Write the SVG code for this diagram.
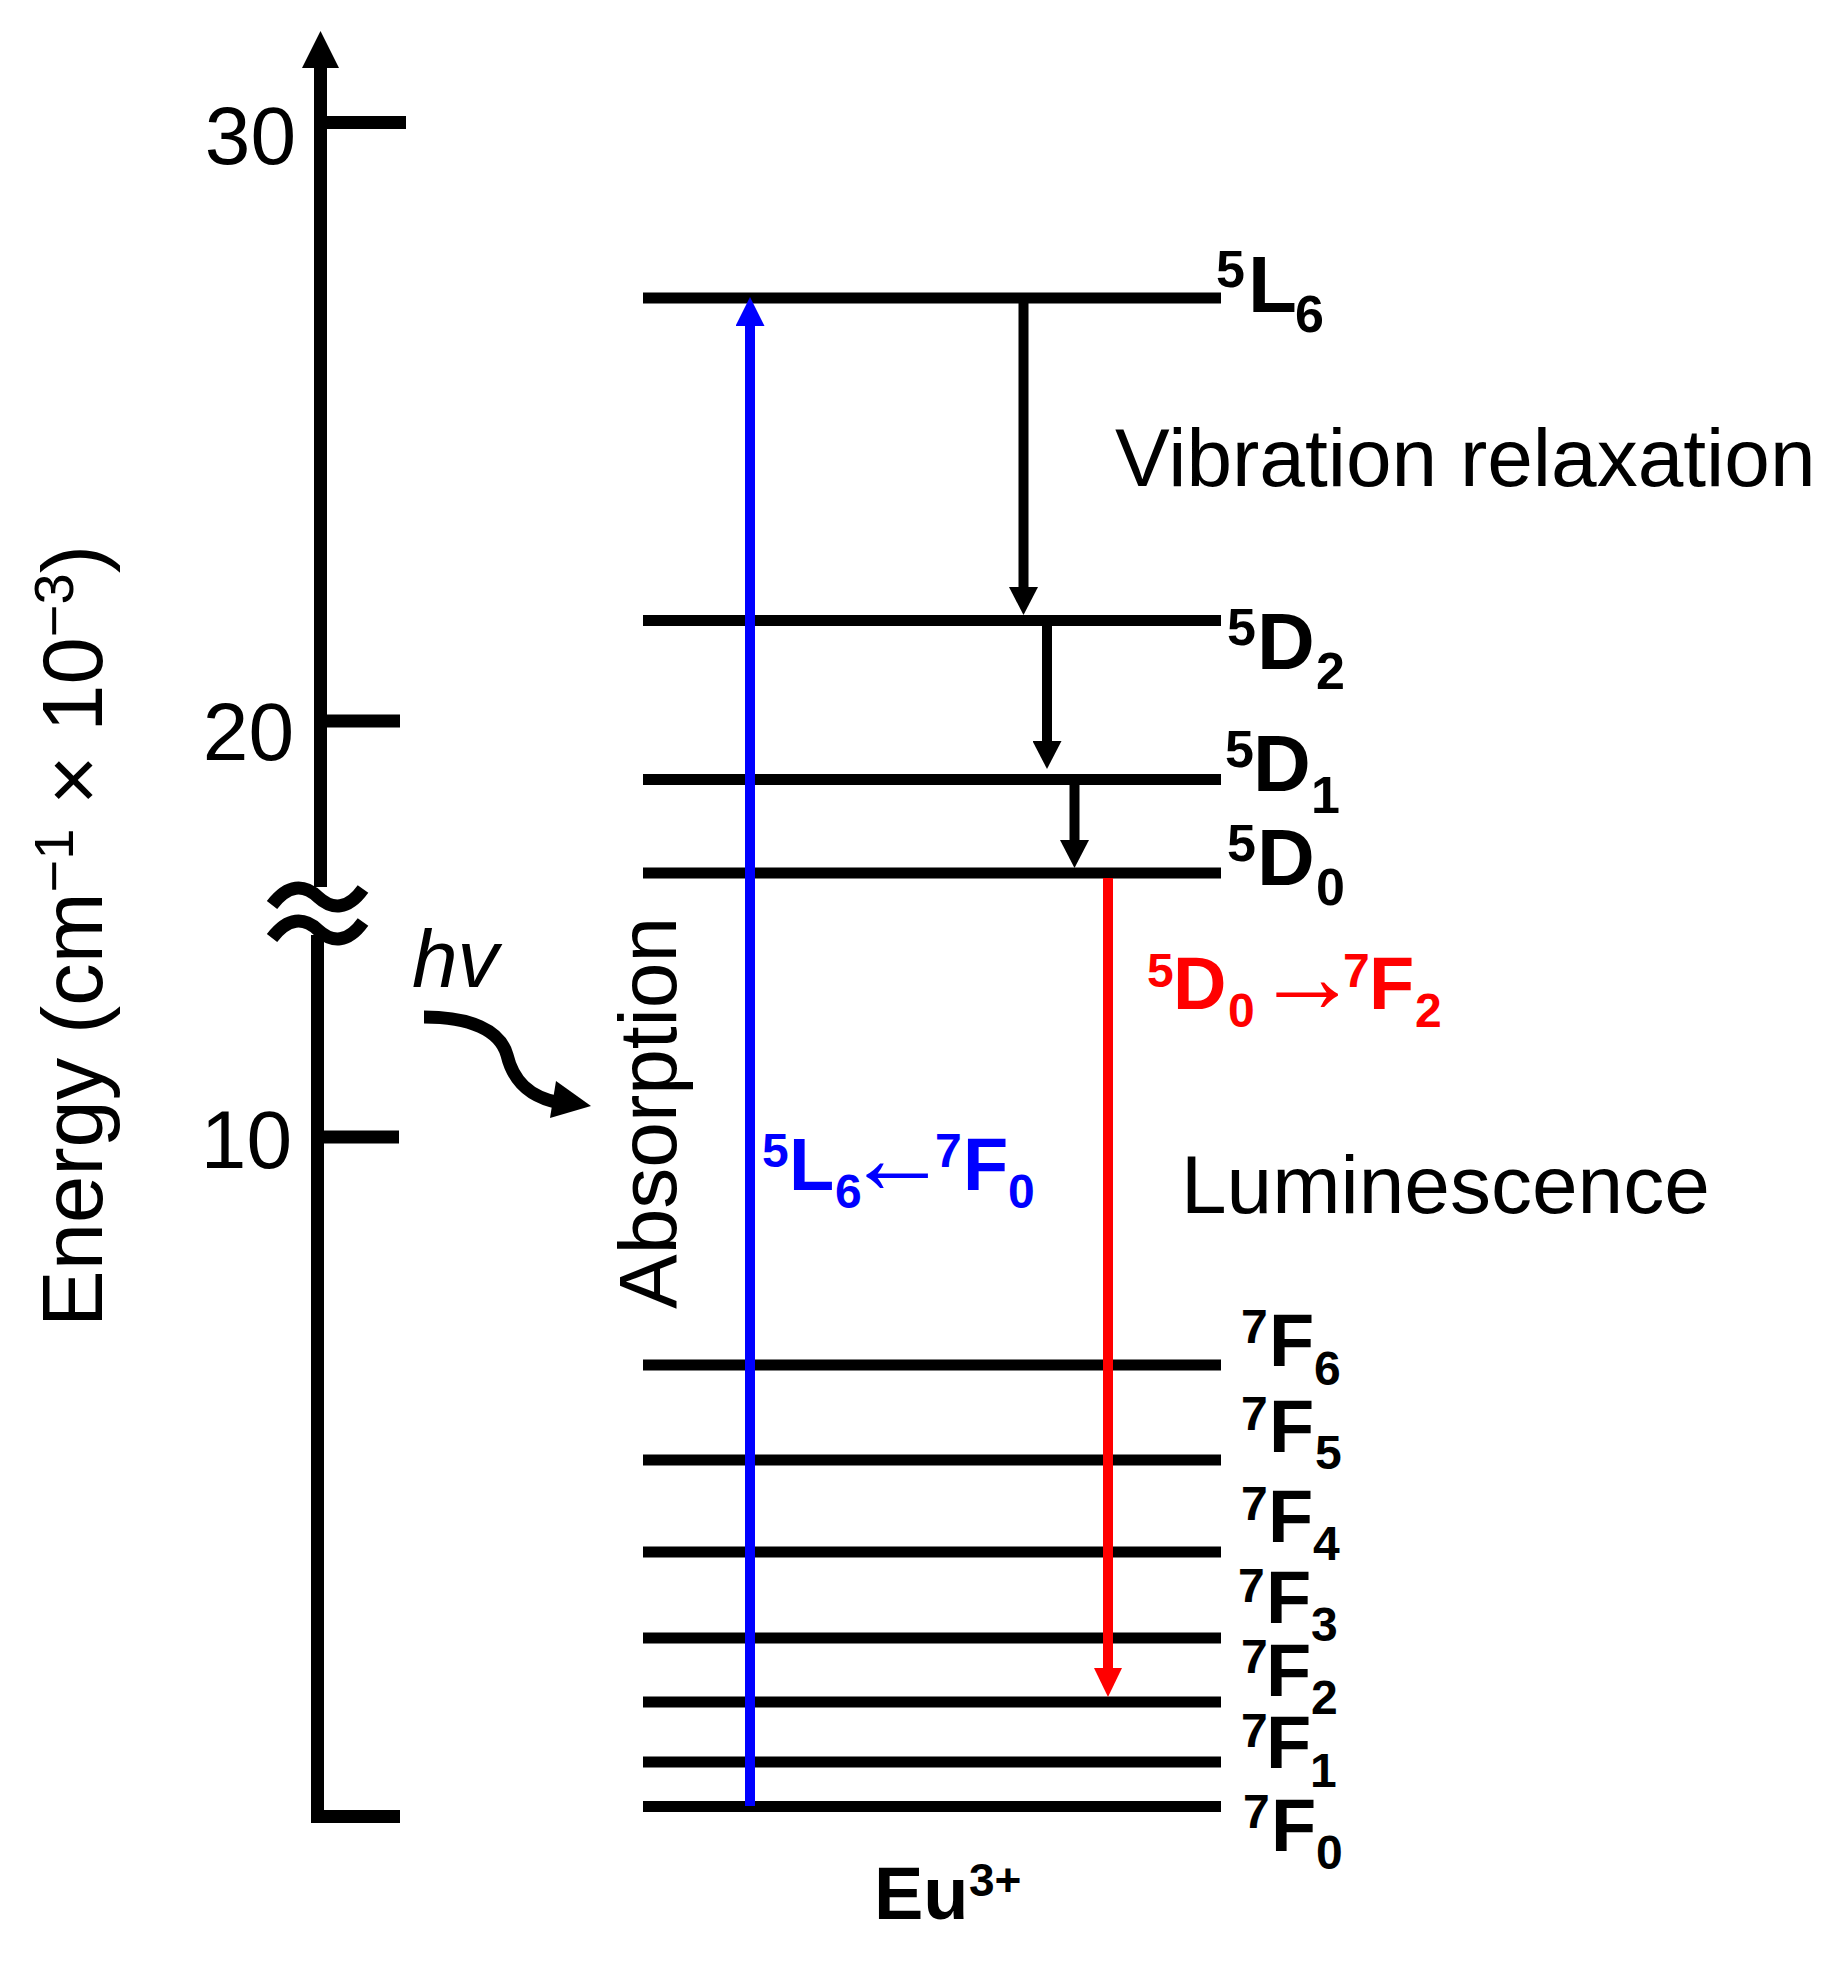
<svg xmlns="http://www.w3.org/2000/svg" width="1826" height="1962" viewBox="0 0 1826 1962">
<style>
.ax{stroke:#000;stroke-width:13;fill:none}
.lvl{stroke:#000;stroke-width:11;fill:none}
.t{font-family:"Liberation Sans",Arial,sans-serif;fill:#000}
.num{font-size:82px;text-anchor:end}
.lab{font-weight:bold;font-size:80px}
.labs{font-weight:bold;font-size:52px}
.fl{font-weight:bold;font-size:74px}
.fls{font-weight:bold;font-size:48px}
.arr{font-weight:normal;font-size:104px}
.blue{fill:#0000ff}
.red{fill:#ff0000}
.big{font-size:82px}
</style>
<defs>
<marker id="hk" markerUnits="userSpaceOnUse" markerWidth="29" markerHeight="29" refX="0" refY="14.5" orient="auto"><path d="M0,0 L28,14.5 L0,29 z" fill="#000"/></marker>
<marker id="hb" markerUnits="userSpaceOnUse" markerWidth="30" markerHeight="29" refX="0" refY="14.5" orient="auto"><path d="M0,0 L29,14.5 L0,29 z" fill="#0000ff"/></marker>
<marker id="hr" markerUnits="userSpaceOnUse" markerWidth="30" markerHeight="28" refX="0" refY="14" orient="auto"><path d="M0,0 L29,14 L0,28 z" fill="#ff0000"/></marker>
</defs>
<rect width="1826" height="1962" fill="#fff"/>

<g id="axis">
<line class="ax" x1="320.5" y1="66" x2="320.5" y2="887"/>
<polygon points="320.5,31 339,68 302,68" fill="#000"/>
<line class="ax" x1="317.5" y1="935" x2="317.5" y2="1823"/>
<line class="ax" x1="320" y1="122.5" x2="406" y2="122.5"/>
<line class="ax" x1="320" y1="721" x2="400" y2="721"/>
<line class="ax" x1="317" y1="1137" x2="399" y2="1137"/>
<line class="ax" x1="311" y1="1816.5" x2="400" y2="1816.5"/>
<path class="ax" stroke-width="12" d="M272,905 C288,884 304,884 318,897 C332,910 348,910 363,889"/>
<path class="ax" stroke-width="12" d="M272,938 C288,917 304,917 318,930 C332,943 348,943 363,922"/>
<text class="t num" x="296" y="164">30</text>
<text class="t num" x="294" y="760">20</text>
<text class="t num" x="292" y="1168">10</text>
<text class="t" font-size="85" transform="translate(102,1327) rotate(-90)">Energy (cm<tspan font-size="56" dy="-29">−1</tspan><tspan dy="29"> × 10</tspan><tspan font-size="56" dy="-29">−3</tspan><tspan dy="29">)</tspan></text>
</g>

<g id="photon">
<text class="t" font-style="italic" font-size="82" x="412" y="987">hv</text>
<path d="M424,1017 C470,1017 500,1030 507,1055 C513,1080 528,1097 560,1103" stroke="#000" stroke-width="13" fill="none"/>
<polygon points="556,1081 591,1106 550,1118" fill="#000"/>
</g>

<g id="level-5L6">
<line class="lvl" x1="643" y1="298" x2="1221" y2="298"/>
<text class="t lab"><tspan class="labs" x="1216" y="287">5</tspan><tspan x="1248" y="312">L</tspan><tspan class="labs" x="1295" y="332">6</tspan></text>
</g>
<g id="level-5D2">
<line class="lvl" x1="643" y1="620.5" x2="1221" y2="620.5"/>
<text class="t lab"><tspan class="labs" x="1227" y="645">5</tspan><tspan x="1257" y="669">D</tspan><tspan class="labs" x="1316" y="689">2</tspan></text>
</g>
<g id="level-5D1">
<line class="lvl" x1="643" y1="779.5" x2="1221" y2="779.5"/>
<text class="t lab"><tspan class="labs" x="1225" y="767">5</tspan><tspan x="1253" y="791">D</tspan><tspan class="labs" x="1311" y="813">1</tspan></text>
</g>
<g id="level-5D0">
<line class="lvl" x1="643" y1="873" x2="1221" y2="873"/>
<text class="t lab"><tspan class="labs" x="1227" y="861">5</tspan><tspan x="1257" y="885">D</tspan><tspan class="labs" x="1316" y="905">0</tspan></text>
</g>
<g id="level-7F6">
<line class="lvl" x1="643" y1="1365" x2="1221" y2="1365"/>
<text class="t fl"><tspan class="fls" x="1241" y="1343">7</tspan><tspan x="1269" y="1366">F</tspan><tspan class="fls" x="1314" y="1385">6</tspan></text>
</g>
<g id="level-7F5">
<line class="lvl" x1="643" y1="1460" x2="1221" y2="1460"/>
<text class="t fl"><tspan class="fls" x="1241" y="1430">7</tspan><tspan x="1269" y="1452">F</tspan><tspan class="fls" x="1315" y="1469">5</tspan></text>
</g>
<g id="level-7F4">
<line class="lvl" x1="643" y1="1552" x2="1221" y2="1552"/>
<text class="t fl"><tspan class="fls" x="1241" y="1520">7</tspan><tspan x="1268" y="1542">F</tspan><tspan class="fls" x="1313" y="1560">4</tspan></text>
</g>
<g id="level-7F3">
<line class="lvl" x1="643" y1="1638" x2="1221" y2="1638"/>
<text class="t fl"><tspan class="fls" x="1238" y="1602">7</tspan><tspan x="1266" y="1623">F</tspan><tspan class="fls" x="1311" y="1641">3</tspan></text>
</g>
<g id="level-7F2">
<line class="lvl" x1="643" y1="1702" x2="1221" y2="1702"/>
<text class="t fl"><tspan class="fls" x="1241" y="1673">7</tspan><tspan x="1266" y="1696">F</tspan><tspan class="fls" x="1311" y="1714">2</tspan></text>
</g>
<g id="level-7F1">
<line class="lvl" x1="643" y1="1762" x2="1221" y2="1762"/>
<text class="t fl"><tspan class="fls" x="1241" y="1747">7</tspan><tspan x="1266" y="1768">F</tspan><tspan class="fls" x="1310" y="1787">1</tspan></text>
</g>
<g id="level-7F0">
<line class="lvl" stroke-width="13" x1="643" y1="1806.5" x2="1221" y2="1806.5"/>
<text class="t fl"><tspan class="fls" x="1243" y="1828">7</tspan><tspan x="1271" y="1851">F</tspan><tspan class="fls" x="1316" y="1869">0</tspan></text>
</g>

<g id="connectors">
<line x1="750" y1="1806" x2="750" y2="326" stroke="#0000ff" stroke-width="10" marker-end="url(#hb)"/>
<line x1="1023.5" y1="298" x2="1023.5" y2="587" stroke="#000" stroke-width="10" marker-end="url(#hk)"/>
<line x1="1047" y1="620" x2="1047" y2="741" stroke="#000" stroke-width="10" marker-end="url(#hk)"/>
<line x1="1074.5" y1="779" x2="1074.5" y2="840" stroke="#000" stroke-width="10" marker-end="url(#hk)"/>
<line x1="1108" y1="878" x2="1108" y2="1668" stroke="#ff0000" stroke-width="10" marker-end="url(#hr)"/>
</g>

<g id="labels">
<text class="t big" x="1115" y="486">Vibration relaxation</text>
<text class="t big" x="1181" y="1213">Luminescence</text>
<text class="t big" transform="translate(676,1309) rotate(-90)">Absorption</text>
<text class="t fl blue"><tspan class="fls" x="762" y="1167">5</tspan><tspan x="789" y="1190">L</tspan><tspan class="fls" x="835" y="1208">6</tspan><tspan class="arr" x="845" y="1193">←</tspan><tspan class="fls" x="935" y="1167">7</tspan><tspan x="963" y="1190">F</tspan><tspan class="fls" x="1008" y="1208">0</tspan></text>
<text class="t fl red"><tspan class="fls" x="1147" y="987">5</tspan><tspan x="1173" y="1009">D</tspan><tspan class="fls" x="1228" y="1027">0</tspan><tspan class="arr" x="1255" y="1012">→</tspan><tspan class="fls" x="1343" y="987">7</tspan><tspan x="1369" y="1009">F</tspan><tspan class="fls" x="1415" y="1027">2</tspan></text>
<text class="t fl"><tspan x="874" y="1919">Eu</tspan><tspan font-size="46" x="969" y="1896">3+</tspan></text>
</g>
</svg>
